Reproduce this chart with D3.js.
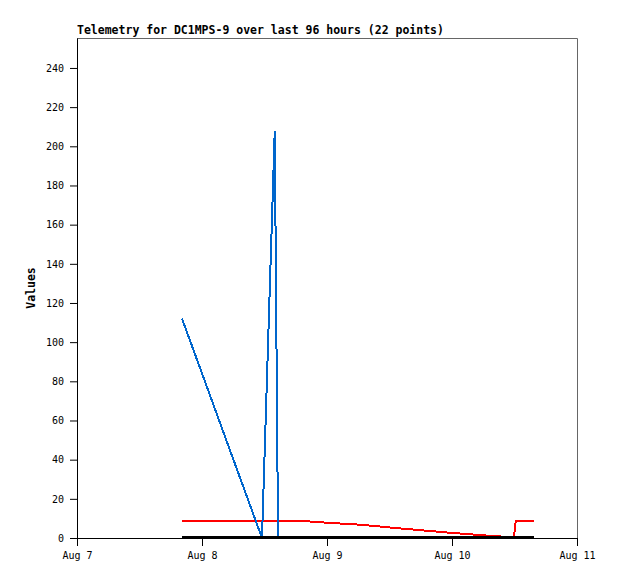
<!DOCTYPE html>
<html>
<head>
<meta charset="utf-8">
<script src="https://cdn.jsdelivr.net/npm/d3@7"></script>
<style>
  body { margin: 0; background: #fff; }
  svg { display: block; }
</style>
</head>
<body>
<svg id="chart" width="618" height="579"></svg>
<script>
// ---- data (timestamps as "YYYY-MM-DD HH:MM") ----
const titleText = "Telemetry for DC1MPS-9 over last 96 hours (22 points)";
const yLabel = "Values";
const xTickDates = ["2024-08-07", "2024-08-08", "2024-08-09", "2024-08-10", "2024-08-11"];
const yTicks = [0, 20, 40, 60, 80, 100, 120, 140, 160, 180, 200, 220, 240];

const blueTimes  = ["2024-08-07 20:10", "2024-08-08 11:31", "2024-08-08 13:58", "2024-08-08 14:36", "2024-08-10 15:40"];
const blueValues = [112, 0, 208, 0, 0];

const redTimes  = ["2024-08-07 20:10", "2024-08-08 18:50", "2024-08-09 00:00", "2024-08-09 06:20", "2024-08-09 14:00",
                   "2024-08-10 00:00", "2024-08-10 07:20", "2024-08-10 11:08", "2024-08-10 11:54", "2024-08-10 12:14",
                   "2024-08-10 15:40"];
const redValues = [8.8, 8.8, 7.8, 6.8, 4.9, 2.6, 1.1, 0.5, 0.2, 8.8, 8.8];

const blackTimes  = ["2024-08-07 20:10", "2024-08-10 15:40"];
const blackValues = [0, 0];

// ---- drawing ----
(function () {
const parse = d3.timeParse("%Y-%m-%d %H:%M");
const parseDay = d3.timeParse("%Y-%m-%d");
const svg = d3.select("#chart");
const pLeft = 77, pRight = 577, pTop = 38, pBottom = 538;

const x = d3.scaleTime()
  .domain([parseDay(xTickDates[0]), parseDay(xTickDates[xTickDates.length - 1])])
  .range([pLeft, pRight]);
const y = d3.scaleLinear().domain([0, 255.3]).range([pBottom, pTop]);

const mono = "'DejaVu Sans Mono', monospace";

// frame (top and right border, gray)
svg.append("path")
  .attr("d", `M${pLeft},${pTop + 0.5}H${pRight + 0.5}V${pBottom}`)
  .attr("fill", "none").attr("stroke", "#666").attr("stroke-width", 1);

// series
function series(times, values, color, width, dy) {
  const pts = times.map((t, i) => [parse(t), values[i]]);
  const line = d3.line().x(d => x(d[0])).y(d => y(d[1]) + dy);
  svg.append("path").datum(pts)
    .attr("d", line)
    .attr("fill", "none")
    .attr("stroke", color)
    .attr("stroke-width", width)
    .attr("stroke-linejoin", "miter")
    .attr("shape-rendering", "crispEdges");
}
series(redTimes, redValues, "#ff0000", 2, 0);
series(blueTimes, blueValues, "#0066cc", 2, 0);
series(blackTimes, blackValues, "#000000", 2, -1);

// y axis
const yAxis = d3.axisLeft(y).tickValues(yTicks).tickSize(7).tickPadding(6).tickSizeOuter(0);
const gy = svg.append("g").attr("transform", `translate(${pLeft},0)`).call(yAxis);
gy.select(".domain").attr("stroke", "#000");
gy.selectAll(".tick line").attr("stroke", "#000");
gy.selectAll("text").attr("font-family", mono).attr("font-size", "10px").attr("fill", "#000");

// x axis
const xAxis = d3.axisBottom(x)
  .tickValues(xTickDates.map(parseDay))
  .tickFormat(d3.timeFormat("%b %-d"))
  .tickSize(8).tickPadding(6).tickSizeOuter(0);
const gx = svg.append("g").attr("transform", `translate(0,${pBottom})`).call(xAxis);
gx.select(".domain").attr("stroke", "#000");
gx.selectAll(".tick line").attr("stroke", "#000");
gx.selectAll("text").attr("font-family", mono).attr("font-size", "10px").attr("fill", "#000");

// title
svg.append("text")
  .attr("x", pLeft).attr("y", 34)
  .attr("font-family", mono).attr("font-weight", "bold").attr("font-size", "11.5px")
  .attr("fill", "#000")
  .text(titleText);

// y label
svg.append("text")
  .attr("transform", `translate(35,${(pTop + pBottom) / 2}) rotate(-90)`)
  .attr("text-anchor", "middle")
  .attr("font-family", mono).attr("font-weight", "bold").attr("font-size", "11.5px")
  .attr("fill", "#000")
  .text(yLabel);
})();
</script>
</body>
</html>
